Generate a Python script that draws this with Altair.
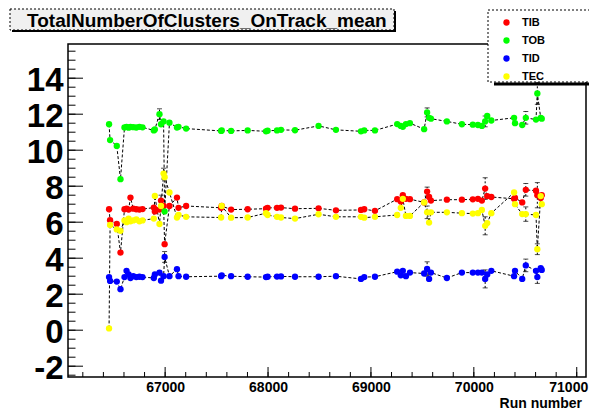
import altair as alt
import pandas as pd

# ---- data ----
runs = [66455, 66465, 66530, 66566, 66605, 66625, 66645, 66663, 66690, 66720,
        66750, 66780, 66890, 66900, 66945, 66960, 66985, 66995, 67042, 67115,
        67130, 67204, 67544, 67550, 67641, 67802, 67980, 67996, 68087, 68126,
        68262, 68491, 68660, 68903, 68935, 69039, 69255, 69290, 69310, 69340,
        69379, 69517, 69546, 69565, 69583, 69738, 69884, 69990, 70040, 70078,
        70110, 70130, 70170, 70391, 70400, 70470, 70505, 70604, 70617, 70650,
        70660]
tib = [6.72, 6.11, 5.9, 4.31, 6.72, 6.75, 6.7, 7.37, 6.75, 6.72,
       6.7, 6.73, 6.81, 6.6, 6.7, 7.2, 6.9, 4.78, 6.9, 7.37,
       6.8, 6.9, 6.8, 6.9, 6.7, 6.72, 6.75, 6.8, 6.8, 6.81,
       6.75, 6.77, 6.66, 6.68, 6.72, 6.63, 7.28, 7.15, 7.5, 7.3,
       7.28, 7.1, 7.7, 7.4, 7.2, 7.25, 7.25, 7.27, 7.3, 7.2,
       7.87, 7.45, 7.4, 7.3, 7.35, 7.1, 7.8, 7.75, 7.5, 7.35,
       7.5]
tob = [11.44, 10.56, 10.24, 8.39, 11.26, 11.3, 11.25, 11.3, 11.28, 11.26,
       11.3, 11.27, 11.1, 11.15, 12.0, 11.44, 11.6, 6.6, 11.53, 11.26,
       11.3, 11.2, 11.07, 11.1, 11.07, 11.1, 11.05, 11.08, 11.1, 11.13,
       11.11, 11.35, 11.13, 11.05, 11.1, 11.1, 11.45, 11.35, 11.3, 11.45,
       11.5, 11.17, 12.1, 11.8, 11.75, 11.6, 11.44, 11.42, 11.4, 11.35,
       11.6, 11.9, 11.65, 11.8, 11.5, 11.4, 11.8, 11.7, 13.15, 11.8,
       11.75]
tid = [2.95, 2.74, 2.7, 2.28, 2.95, 3.3, 3.1, 2.9, 3.0, 2.95,
       2.97, 2.95, 2.9, 3.1, 3.2, 2.75, 3.0, 4.07, 3.0, 3.39,
       3.0, 2.97, 3.0, 3.05, 3.0, 2.97, 2.95, 2.97, 2.98, 2.99,
       2.97, 2.97, 3.0, 2.85, 2.95, 2.97, 3.25, 3.05, 3.3, 3.0,
       3.2, 3.15, 3.4, 2.85, 3.2, 2.9, 3.2, 3.2, 3.2, 3.2,
       2.85, 3.1, 3.3, 3.0, 3.3, 2.85, 3.6, 3.3, 2.95, 3.45,
       3.35]
tec = [0.1, 5.85, 5.6, 5.52, 6.1, 6.0, 6.2, 6.05, 6.1, 6.15,
       6.05, 6.1, 6.2, 7.46, 5.9, 6.9, 8.7, 8.5, 7.65, 6.26,
       6.4, 6.3, 6.26, 6.9, 6.25, 6.26, 6.5, 6.4, 6.3, 6.26,
       6.2, 6.44, 6.3, 6.3, 6.25, 6.3, 6.4, 6.8, 7.3, 6.35,
       6.35, 7.1, 6.55, 5.98, 6.55, 6.55, 6.5, 6.48, 6.5, 6.68,
       5.8, 5.95, 6.5, 7.65, 7.0, 6.45, 6.45, 6.4, 4.5, 7.45,
       7.0]
# error bars (index into runs -> error), only where visible
tib_err = {15: 0.3, 42: 0.25, 50: 0.6, 56: 0.35, 58: 0.7}
tob_err = {14: 0.3, 42: 0.25, 50: 0.3, 56: 0.35, 58: 0.6}
tid_err = {17: 0.3, 42: 0.4, 50: 0.5, 56: 0.35, 58: 0.35}
tec_err = {16: 0.3, 42: 0.35, 50: 0.5, 56: 0.4, 58: 0.3}

series_names = ["TIB", "TOB", "TID", "TEC"]
series_colors = ["#ff0000", "#00ff00", "#0000ff", "#ffff00"]
x_major = [67000, 68000, 69000, 70000, 71000]
x_minor = [66200 + 200 * i for i in range(25)]
y_major = [-2, 0, 2, 4, 6, 8, 10, 12, 14]
y_minor = [-2.5 + 0.5 * i for i in range(37)]
title_text = "TotalNumberOfClusters_OnTrack_mean"
x_title = "Run number"

rows = []
erows = []
for name, vals, errs in zip(series_names, [tib, tob, tid, tec],
                            [tib_err, tob_err, tid_err, tec_err]):
    for i, (r, v) in enumerate(zip(runs, vals)):
        rows.append({"series": name, "run": r, "value": v, "idx": i})
        if i in errs:
            e = errs[i]
            erows.append({"series": name, "run": r, "lo": v - e, "hi": v + e})
df = pd.DataFrame(rows)
edf = pd.DataFrame(erows)

FONT = "Liberation Sans"
W, H = 518, 333
xs = alt.Scale(domain=[66056, 71090], nice=False, zero=False)
ys = alt.Scale(domain=[-2.6, 15.9], nice=False, zero=False)

color = alt.Color("series:N",
                  scale=alt.Scale(domain=series_names, range=series_colors),
                  sort=series_names,
                  legend=alt.Legend(orient="none", legendX=433, legendY=-27,
                                    title=None, symbolType="circle", symbolSize=40,
                                    symbolStrokeWidth=0, labelFont=FONT,
                                    labelFontWeight="bold", labelFontSize=11,
                                    labelColor="black",
                                    labelOffset=10, rowPadding=6, padding=0))

xaxis = alt.Axis(values=x_major, format="d", labelFont=FONT, labelFontSize=14,
                 labelFontWeight="bold", labelColor="black", ticks=False,
                 tickSize=0, domain=False, grid=False, title=None, labelPadding=3,
                 labelFlush=11, labelFlushOffset=11)
yaxis = alt.Axis(values=y_major, labelExpr="datum.value", labelFont=FONT,
                 labelFontSize=33, labelFontWeight="bold", labelColor="black",
                 ticks=False, tickSize=0, domain=False, grid=False, title=None,
                 labelPadding=5, labelOffset=2)

lines = alt.Chart(df).mark_line(color="black", strokeWidth=1, strokeDash=[3, 2]).encode(
    x=alt.X("run:Q", scale=xs, axis=xaxis),
    y=alt.Y("value:Q", scale=ys, axis=yaxis),
    detail="series:N",
    order="idx:Q",
)
ebars = alt.Chart(edf).mark_rule(color="black", strokeWidth=1, strokeDash=[2, 2]).encode(
    x=alt.X("run:Q", scale=xs), y=alt.Y("lo:Q", scale=ys), y2="hi:Q")
ecap_lo = alt.Chart(edf).mark_tick(color="black", thickness=1, size=5,
                                   orient="horizontal").encode(
    x=alt.X("run:Q", scale=xs), y=alt.Y("lo:Q", scale=ys))
ecap_hi = alt.Chart(edf).mark_tick(color="black", thickness=1, size=5,
                                   orient="horizontal").encode(
    x=alt.X("run:Q", scale=xs), y=alt.Y("hi:Q", scale=ys))
points = alt.Chart(df).mark_circle(size=40, opacity=1).encode(
    x=alt.X("run:Q", scale=xs),
    y=alt.Y("value:Q", scale=ys),
    color=color,
)

ymaj_df = pd.DataFrame({"v": y_major})
ymin_df = pd.DataFrame({"v": y_minor})
xmaj_df = pd.DataFrame({"v": x_major})
xmin_df = pd.DataFrame({"v": x_minor})

ytick_major = alt.Chart(ymaj_df).mark_rule(color="black", strokeWidth=1).encode(
    y=alt.Y("v:Q", scale=ys), x=alt.value(0), x2=alt.value(15))
ytick_minor = alt.Chart(ymin_df).mark_rule(color="black", strokeWidth=1).encode(
    y=alt.Y("v:Q", scale=ys), x=alt.value(0), x2=alt.value(7.5))
xtick_major = alt.Chart(xmaj_df).mark_rule(color="black", strokeWidth=1).encode(
    x=alt.X("v:Q", scale=xs), y=alt.value(H), y2=alt.value(H - 10))
xtick_minor = alt.Chart(xmin_df).mark_rule(color="black", strokeWidth=1).encode(
    x=alt.X("v:Q", scale=xs), y=alt.value(H), y2=alt.value(H - 5))

# title box (ROOT-style pave with shadow)
tdf = pd.DataFrame({"t": [title_text]})
title_box = alt.Chart(tdf).mark_rect(fill="#f0f0f0", stroke="black", strokeWidth=1,
                                     strokeDash=[2, 2]).encode(
    x=alt.value(-58), x2=alt.value(326), y=alt.value(-35), y2=alt.value(-14))
title_shadow_b = alt.Chart(tdf).mark_rule(color="black", strokeWidth=2).encode(
    x=alt.value(-56), x2=alt.value(328), y=alt.value(-13), y2=alt.value(-13))
title_shadow_r = alt.Chart(tdf).mark_rule(color="black", strokeWidth=2).encode(
    x=alt.value(327), x2=alt.value(327), y=alt.value(-33), y2=alt.value(-13))
title_txt = alt.Chart(tdf).mark_text(font=FONT, fontSize=19, fontWeight="bold",
                                     align="left", baseline="alphabetic", color="black").encode(
    x=alt.value(-41), y=alt.value(-17), text="t:N")

# legend pave
legend_box = alt.Chart(tdf).mark_rect(fill="white", stroke="black", strokeWidth=1,
                                      strokeDash=[2, 2]).encode(
    x=alt.value(420), x2=alt.value(560), y=alt.value(-34), y2=alt.value(38))
legend_shadow = alt.Chart(tdf).mark_rule(color="black", strokeWidth=3).encode(
    x=alt.value(426), x2=alt.value(560), y=alt.value(40), y2=alt.value(40))

xt_df = pd.DataFrame({"t": [x_title]})
xtitle = alt.Chart(xt_df).mark_text(font=FONT, fontSize=14, fontWeight="bold",
                                    align="right", baseline="alphabetic", color="black").encode(
    x=alt.value(514), y=alt.value(363.5), text="t:N")

chart = alt.layer(
    lines, ebars, ecap_lo, ecap_hi, points,
    ytick_major, ytick_minor, xtick_major, xtick_minor,
    title_box, title_shadow_b, title_shadow_r, title_txt,
    legend_box, legend_shadow, xtitle,
).properties(
    width=W, height=H,
    autosize=alt.AutoSizeParams(type="none"),
    padding={"left": 60, "top": 36, "right": 3, "bottom": 32},
    background="white",
).configure_view(
    stroke="black", strokeWidth=1.5
)

chart.save("out.html", embed_options={"renderer": "svg", "actions": False})
